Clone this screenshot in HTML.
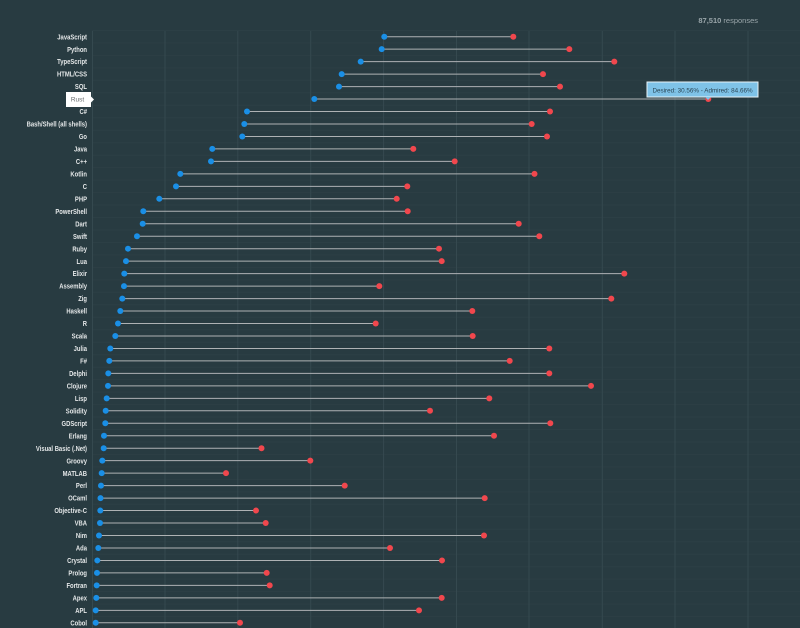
<!DOCTYPE html>
<html><head><meta charset="utf-8"><style>
html,body{margin:0;padding:0;background:#283b41;}
svg{display:block;}
</style></head><body>
<svg width="800" height="628" viewBox="0 0 800 628" xmlns="http://www.w3.org/2000/svg">
<rect width="800" height="628" fill="#283b41"/>
<g stroke="#2c3f45" stroke-width="1">
<line x1="92" x2="800" y1="30.5" y2="30.5"/><line x1="92" x2="800" y1="42.9" y2="42.9"/><line x1="92" x2="800" y1="55.4" y2="55.4"/><line x1="92" x2="800" y1="67.9" y2="67.9"/><line x1="92" x2="800" y1="80.3" y2="80.3"/><line x1="92" x2="800" y1="92.8" y2="92.8"/><line x1="92" x2="800" y1="105.3" y2="105.3"/><line x1="92" x2="800" y1="117.8" y2="117.8"/><line x1="92" x2="800" y1="130.2" y2="130.2"/><line x1="92" x2="800" y1="142.7" y2="142.7"/><line x1="92" x2="800" y1="155.2" y2="155.2"/><line x1="92" x2="800" y1="167.6" y2="167.6"/><line x1="92" x2="800" y1="180.1" y2="180.1"/><line x1="92" x2="800" y1="192.6" y2="192.6"/><line x1="92" x2="800" y1="205.0" y2="205.0"/><line x1="92" x2="800" y1="217.5" y2="217.5"/><line x1="92" x2="800" y1="230.0" y2="230.0"/><line x1="92" x2="800" y1="242.5" y2="242.5"/><line x1="92" x2="800" y1="254.9" y2="254.9"/><line x1="92" x2="800" y1="267.4" y2="267.4"/><line x1="92" x2="800" y1="279.9" y2="279.9"/><line x1="92" x2="800" y1="292.3" y2="292.3"/><line x1="92" x2="800" y1="304.8" y2="304.8"/><line x1="92" x2="800" y1="317.3" y2="317.3"/><line x1="92" x2="800" y1="329.7" y2="329.7"/><line x1="92" x2="800" y1="342.2" y2="342.2"/><line x1="92" x2="800" y1="354.7" y2="354.7"/><line x1="92" x2="800" y1="367.2" y2="367.2"/><line x1="92" x2="800" y1="379.6" y2="379.6"/><line x1="92" x2="800" y1="392.1" y2="392.1"/><line x1="92" x2="800" y1="404.6" y2="404.6"/><line x1="92" x2="800" y1="417.0" y2="417.0"/><line x1="92" x2="800" y1="429.5" y2="429.5"/><line x1="92" x2="800" y1="442.0" y2="442.0"/><line x1="92" x2="800" y1="454.4" y2="454.4"/><line x1="92" x2="800" y1="466.9" y2="466.9"/><line x1="92" x2="800" y1="479.4" y2="479.4"/><line x1="92" x2="800" y1="491.9" y2="491.9"/><line x1="92" x2="800" y1="504.3" y2="504.3"/><line x1="92" x2="800" y1="516.8" y2="516.8"/><line x1="92" x2="800" y1="529.3" y2="529.3"/><line x1="92" x2="800" y1="541.7" y2="541.7"/><line x1="92" x2="800" y1="554.2" y2="554.2"/><line x1="92" x2="800" y1="566.7" y2="566.7"/><line x1="92" x2="800" y1="579.1" y2="579.1"/><line x1="92" x2="800" y1="591.6" y2="591.6"/><line x1="92" x2="800" y1="604.1" y2="604.1"/><line x1="92" x2="800" y1="616.6" y2="616.6"/>
</g>
<g stroke="#35494f" stroke-width="1">
<line x1="92.5" x2="92.5" y1="31" y2="628"/><line x1="165" x2="165" y1="31" y2="628"/><line x1="237.8" x2="237.8" y1="31" y2="628"/><line x1="310.7" x2="310.7" y1="31" y2="628"/><line x1="383.6" x2="383.6" y1="31" y2="628"/><line x1="456.5" x2="456.5" y1="31" y2="628"/><line x1="529" x2="529" y1="31" y2="628"/><line x1="602.3" x2="602.3" y1="31" y2="628"/><line x1="675" x2="675" y1="31" y2="628"/><line x1="748" x2="748" y1="31" y2="628"/>
</g>
<text x="758" y="23" text-anchor="end" font-family="Liberation Sans, sans-serif" font-size="7.5" fill="#9aa6aa"><tspan font-weight="bold">87,510</tspan> responses</text>
<g stroke="#aeb2b4" stroke-width="1">
<line x1="384.3" x2="513.3" y1="36.7" y2="36.7"/>
<line x1="381.7" x2="569.3" y1="49.17" y2="49.17"/>
<line x1="360.7" x2="614.3" y1="61.64" y2="61.64"/>
<line x1="341.7" x2="543" y1="74.11" y2="74.11"/>
<line x1="339" x2="560" y1="86.58" y2="86.58"/>
<line x1="314.3" x2="708.3" y1="99.05" y2="99.05"/>
<line x1="247" x2="550" y1="111.52" y2="111.52"/>
<line x1="244.3" x2="531.7" y1="123.99" y2="123.99"/>
<line x1="242.3" x2="547" y1="136.46" y2="136.46"/>
<line x1="212.3" x2="413.3" y1="148.93" y2="148.93"/>
<line x1="211" x2="454.7" y1="161.4" y2="161.4"/>
<line x1="180.3" x2="534.5" y1="173.87" y2="173.87"/>
<line x1="176" x2="407.3" y1="186.34" y2="186.34"/>
<line x1="159.3" x2="396.7" y1="198.81" y2="198.81"/>
<line x1="143.3" x2="407.7" y1="211.28" y2="211.28"/>
<line x1="142.7" x2="518.7" y1="223.75" y2="223.75"/>
<line x1="137" x2="539.3" y1="236.22" y2="236.22"/>
<line x1="128" x2="439" y1="248.69" y2="248.69"/>
<line x1="126" x2="441.7" y1="261.16" y2="261.16"/>
<line x1="124.3" x2="624.3" y1="273.63" y2="273.63"/>
<line x1="124" x2="379.3" y1="286.1" y2="286.1"/>
<line x1="122.3" x2="611.3" y1="298.57" y2="298.57"/>
<line x1="120.3" x2="472.3" y1="311.04" y2="311.04"/>
<line x1="118" x2="375.7" y1="323.51" y2="323.51"/>
<line x1="115.3" x2="472.7" y1="335.98" y2="335.98"/>
<line x1="110.3" x2="549.3" y1="348.45" y2="348.45"/>
<line x1="109.3" x2="509.7" y1="360.92" y2="360.92"/>
<line x1="108.3" x2="549.3" y1="373.39" y2="373.39"/>
<line x1="108" x2="591" y1="385.86" y2="385.86"/>
<line x1="106.7" x2="489.3" y1="398.33" y2="398.33"/>
<line x1="105.7" x2="430" y1="410.8" y2="410.8"/>
<line x1="105.3" x2="550.3" y1="423.27" y2="423.27"/>
<line x1="104" x2="494" y1="435.74" y2="435.74"/>
<line x1="103.7" x2="261.5" y1="448.21" y2="448.21"/>
<line x1="102.3" x2="310.3" y1="460.68" y2="460.68"/>
<line x1="101.7" x2="226" y1="473.15" y2="473.15"/>
<line x1="101" x2="344.7" y1="485.62" y2="485.62"/>
<line x1="100.5" x2="484.7" y1="498.09" y2="498.09"/>
<line x1="100.3" x2="256" y1="510.56" y2="510.56"/>
<line x1="100" x2="265.7" y1="523.03" y2="523.03"/>
<line x1="99" x2="484" y1="535.5" y2="535.5"/>
<line x1="98.3" x2="390" y1="547.97" y2="547.97"/>
<line x1="97.3" x2="442" y1="560.44" y2="560.44"/>
<line x1="97" x2="266.7" y1="572.91" y2="572.91"/>
<line x1="96.7" x2="269.7" y1="585.38" y2="585.38"/>
<line x1="96.3" x2="441.7" y1="597.85" y2="597.85"/>
<line x1="95.7" x2="419" y1="610.32" y2="610.32"/>
<line x1="95.7" x2="240" y1="622.79" y2="622.79"/>
</g>
<g fill="#1a8fe6">
<circle cx="384.3" cy="36.7" r="3"/><circle cx="381.7" cy="49.17" r="3"/><circle cx="360.7" cy="61.64" r="3"/><circle cx="341.7" cy="74.11" r="3"/><circle cx="339" cy="86.58" r="3"/><circle cx="314.3" cy="99.05" r="3"/><circle cx="247" cy="111.52" r="3"/><circle cx="244.3" cy="123.99" r="3"/><circle cx="242.3" cy="136.46" r="3"/><circle cx="212.3" cy="148.93" r="3"/><circle cx="211" cy="161.4" r="3"/><circle cx="180.3" cy="173.87" r="3"/><circle cx="176" cy="186.34" r="3"/><circle cx="159.3" cy="198.81" r="3"/><circle cx="143.3" cy="211.28" r="3"/><circle cx="142.7" cy="223.75" r="3"/><circle cx="137" cy="236.22" r="3"/><circle cx="128" cy="248.69" r="3"/><circle cx="126" cy="261.16" r="3"/><circle cx="124.3" cy="273.63" r="3"/><circle cx="124" cy="286.1" r="3"/><circle cx="122.3" cy="298.57" r="3"/><circle cx="120.3" cy="311.04" r="3"/><circle cx="118" cy="323.51" r="3"/><circle cx="115.3" cy="335.98" r="3"/><circle cx="110.3" cy="348.45" r="3"/><circle cx="109.3" cy="360.92" r="3"/><circle cx="108.3" cy="373.39" r="3"/><circle cx="108" cy="385.86" r="3"/><circle cx="106.7" cy="398.33" r="3"/><circle cx="105.7" cy="410.8" r="3"/><circle cx="105.3" cy="423.27" r="3"/><circle cx="104" cy="435.74" r="3"/><circle cx="103.7" cy="448.21" r="3"/><circle cx="102.3" cy="460.68" r="3"/><circle cx="101.7" cy="473.15" r="3"/><circle cx="101" cy="485.62" r="3"/><circle cx="100.5" cy="498.09" r="3"/><circle cx="100.3" cy="510.56" r="3"/><circle cx="100" cy="523.03" r="3"/><circle cx="99" cy="535.5" r="3"/><circle cx="98.3" cy="547.97" r="3"/><circle cx="97.3" cy="560.44" r="3"/><circle cx="97" cy="572.91" r="3"/><circle cx="96.7" cy="585.38" r="3"/><circle cx="96.3" cy="597.85" r="3"/><circle cx="95.7" cy="610.32" r="3"/><circle cx="95.7" cy="622.79" r="3"/>
</g>
<g fill="#f1474d">
<circle cx="513.3" cy="36.7" r="3"/><circle cx="569.3" cy="49.17" r="3"/><circle cx="614.3" cy="61.64" r="3"/><circle cx="543" cy="74.11" r="3"/><circle cx="560" cy="86.58" r="3"/><circle cx="708.3" cy="99.05" r="3"/><circle cx="550" cy="111.52" r="3"/><circle cx="531.7" cy="123.99" r="3"/><circle cx="547" cy="136.46" r="3"/><circle cx="413.3" cy="148.93" r="3"/><circle cx="454.7" cy="161.4" r="3"/><circle cx="534.5" cy="173.87" r="3"/><circle cx="407.3" cy="186.34" r="3"/><circle cx="396.7" cy="198.81" r="3"/><circle cx="407.7" cy="211.28" r="3"/><circle cx="518.7" cy="223.75" r="3"/><circle cx="539.3" cy="236.22" r="3"/><circle cx="439" cy="248.69" r="3"/><circle cx="441.7" cy="261.16" r="3"/><circle cx="624.3" cy="273.63" r="3"/><circle cx="379.3" cy="286.1" r="3"/><circle cx="611.3" cy="298.57" r="3"/><circle cx="472.3" cy="311.04" r="3"/><circle cx="375.7" cy="323.51" r="3"/><circle cx="472.7" cy="335.98" r="3"/><circle cx="549.3" cy="348.45" r="3"/><circle cx="509.7" cy="360.92" r="3"/><circle cx="549.3" cy="373.39" r="3"/><circle cx="591" cy="385.86" r="3"/><circle cx="489.3" cy="398.33" r="3"/><circle cx="430" cy="410.8" r="3"/><circle cx="550.3" cy="423.27" r="3"/><circle cx="494" cy="435.74" r="3"/><circle cx="261.5" cy="448.21" r="3"/><circle cx="310.3" cy="460.68" r="3"/><circle cx="226" cy="473.15" r="3"/><circle cx="344.7" cy="485.62" r="3"/><circle cx="484.7" cy="498.09" r="3"/><circle cx="256" cy="510.56" r="3"/><circle cx="265.7" cy="523.03" r="3"/><circle cx="484" cy="535.5" r="3"/><circle cx="390" cy="547.97" r="3"/><circle cx="442" cy="560.44" r="3"/><circle cx="266.7" cy="572.91" r="3"/><circle cx="269.7" cy="585.38" r="3"/><circle cx="441.7" cy="597.85" r="3"/><circle cx="419" cy="610.32" r="3"/><circle cx="240" cy="622.79" r="3"/>
</g>
<g transform="translate(87 0) scale(0.84 1)" font-family="Liberation Sans, sans-serif" font-size="7" font-weight="bold" fill="#e4e7e8" text-anchor="end">
<text x="0" y="39.3">JavaScript</text>
<text x="0" y="51.8">Python</text>
<text x="0" y="64.2">TypeScript</text>
<text x="0" y="76.7">HTML/CSS</text>
<text x="0" y="89.2">SQL</text>
<text x="0" y="114.1">C#</text>
<text x="0" y="126.6">Bash/Shell (all shells)</text>
<text x="0" y="139.1">Go</text>
<text x="0" y="151.5">Java</text>
<text x="0" y="164">C++</text>
<text x="0" y="176.5">Kotlin</text>
<text x="0" y="188.9">C</text>
<text x="0" y="201.4">PHP</text>
<text x="0" y="213.9">PowerShell</text>
<text x="0" y="226.4">Dart</text>
<text x="0" y="238.8">Swift</text>
<text x="0" y="251.3">Ruby</text>
<text x="0" y="263.8">Lua</text>
<text x="0" y="276.2">Elixir</text>
<text x="0" y="288.7">Assembly</text>
<text x="0" y="301.2">Zig</text>
<text x="0" y="313.6">Haskell</text>
<text x="0" y="326.1">R</text>
<text x="0" y="338.6">Scala</text>
<text x="0" y="351.1">Julia</text>
<text x="0" y="363.5">F#</text>
<text x="0" y="376">Delphi</text>
<text x="0" y="388.5">Clojure</text>
<text x="0" y="400.9">Lisp</text>
<text x="0" y="413.4">Solidity</text>
<text x="0" y="425.9">GDScript</text>
<text x="0" y="438.3">Erlang</text>
<text x="0" y="450.8">Visual Basic (.Net)</text>
<text x="0" y="463.3">Groovy</text>
<text x="0" y="475.8">MATLAB</text>
<text x="0" y="488.2">Perl</text>
<text x="0" y="500.7">OCaml</text>
<text x="0" y="513.2">Objective-C</text>
<text x="0" y="525.6">VBA</text>
<text x="0" y="538.1">Nim</text>
<text x="0" y="550.6">Ada</text>
<text x="0" y="563">Crystal</text>
<text x="0" y="575.5">Prolog</text>
<text x="0" y="588">Fortran</text>
<text x="0" y="600.5">Apex</text>
<text x="0" y="612.9">APL</text>
<text x="0" y="625.4">Cobol</text>
</g>
<rect x="66" y="92" width="25" height="15" fill="#ffffff"/>
<polygon points="91,96.5 94,99.5 91,102.5" fill="#ffffff"/>
<text x="77.5" y="101.6" text-anchor="middle" font-family="Liberation Sans, sans-serif" font-size="6.5" fill="#666a6c">Rust</text>
<rect x="647" y="82" width="111" height="15" fill="#7fc3e8" stroke="#e8f3f8" stroke-width="1"/>
<polygon points="705,97 708,100 711,97" fill="#7fc3e8"/>
<text x="702.5" y="92.3" text-anchor="middle" font-family="Liberation Sans, sans-serif" font-size="6.3" fill="#2a4554">Desired: 30.56% - Admired: 84.66%</text>
</svg>
</body></html>
